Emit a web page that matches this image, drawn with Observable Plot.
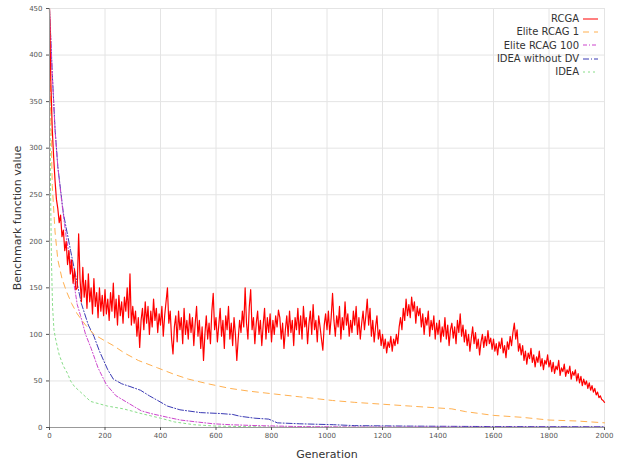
<!DOCTYPE html>
<html>
<head>
<meta charset="utf-8">
<script src="https://cdn.jsdelivr.net/npm/d3@7"></script>
<script src="https://cdn.jsdelivr.net/npm/@observablehq/plot@0.6"></script>
<style>
  html, body { margin: 0; padding: 0; background: #fff; }
  #wrap { position: relative; width: 617px; height: 461px; font-family: "DejaVu Sans", sans-serif; }
  #wrap svg { display: block; }
  #wrap svg [aria-label="y-axis label"] text,
  #wrap svg [aria-label="x-axis label"] text { font-size: 11px; fill: #333; }
  #legend { position: absolute; right: 19px; top: 12px; font-size: 10px; color: #333; }
  #legend .row { display: flex; justify-content: flex-end; align-items: center; height: 13.3px; }
  #legend svg { margin-left: 4px; }
</style>
</head>
<body>
<div id="wrap"></div>
<script>
// ---- data ----
const xTicks = [0, 200, 400, 600, 800, 1000, 1200, 1400, 1600, 1800, 2000];
const yTicks = [0, 50, 100, 150, 200, 250, 300, 350, 400, 450];

const seriesNames = ["RCGA", "Elite RCAG 1", "Elite RCAG 100", "IDEA without DV", "IDEA"];
const seriesColors = ["#ff0000", "#ffb050", "#cc44cc", "#3a3ab4", "#88dd88"];
const seriesDash = ["none", "6,5", "4,2,1,2", "6,2,1,2", "2,3"];

// RCGA: one value every 5 generations, from 0 to 2000
const rcgaStep = 5;
const rcga = [
  450,370,320,290,265,245,235,220,228,205,212,190,200,175,190,165,180,155,170,148,
  150,208,160,135,172,140,158,128,165,135,150,122,160,130,145,118,150,125,142,120,
  148,122,138,115,145,125,155,118,138,110,142,120,135,112,140,125,150,118,165,110,
  130,112,125,98,118,86,115,128,105,135,112,130,100,125,108,138,115,128,102,122,
  110,130,98,120,135,150,112,125,95,79,108,120,92,125,105,118,90,128,100,115,
  95,122,102,118,88,112,130,98,115,85,108,72,100,120,95,112,90,125,144,105,
  118,92,110,128,98,115,85,120,105,130,95,112,88,118,100,72,95,115,102,125,
  108,150,112,95,130,148,105,118,90,112,125,100,115,88,110,128,95,118,102,122,
  92,115,100,120,108,126,118,95,112,85,105,120,98,125,102,115,88,118,105,128,
  100,120,95,130,108,118,90,112,125,100,132,105,115,92,120,108,95,83,110,122,
  105,125,100,118,144,115,98,120,108,130,95,118,105,135,110,122,98,115,102,125,
  110,130,100,118,95,112,125,105,120,138,110,128,98,115,92,108,120,95,105,88,
  100,85,95,80,92,86,98,82,95,88,100,90,108,118,105,128,115,138,120,132,
  118,140,125,135,112,130,120,128,108,122,100,118,110,125,98,115,105,120,95,112,
  100,115,92,108,98,118,95,110,88,105,112,96,108,90,115,102,122,98,110,92,
  105,88,100,82,96,108,90,102,85,95,78,92,100,86,98,88,104,90,96,84,
  95,82,90,78,92,85,96,80,88,75,92,84,98,88,102,112,95,105,82,90,
  78,88,72,82,68,80,74,85,70,78,65,76,70,82,66,74,62,72,68,78,
  65,72,60,70,58,66,62,72,56,64,60,68,55,62,58,66,52,60,56,62,
  50,58,48,55,45,52,46,50,42,48,40,45,38,42,35,38,32,34,30,29,
  27
];

// [generation, value]
const elite1 = [[0,450],[5,330],[10,260],[20,210],[30,180],[45,160],[60,147],[80,133],[100,122],[130,110],[160,100],[200,93],[230,88],[270,80],[320,72],[390,64],[450,57],[500,52],[570,47],[650,42],[720,39],[810,36],[900,33],[1020,29],[1100,27],[1200,25],[1300,23],[1400,21],[1450,20],[1500,17],[1600,13],[1700,11],[1800,8],[1900,7],[2000,5]];
const elite100 = [[0,450],[10,380],[20,320],[30,280],[45,240],[60,205],[80,170],[100,132],[112,120],[130,100],[150,85],[175,64],[205,46],[240,34],[285,26],[330,18],[365,15],[425,11],[472,8],[530,6],[590,4],[650,3],[750,2],[900,1],[1100,0.5],[2000,0.2]];
const ideaNoDv = [[0,450],[10,380],[20,320],[30,280],[50,230],[76,190],[105,147],[115,133],[140,110],[160,98],[180,82],[210,62],[230,52],[260,47],[290,44],[328,40],[360,34],[390,29],[425,23],[470,19],[544,16],[616,15],[660,14],[688,12],[740,10],[790,9],[821,5],[900,4],[1023,3],[1100,2],[1300,1.5],[1600,1],[2000,0.8]];
const idea = [[0,450],[2,350],[4,250],[7,180],[11,130],[16,105],[22,95],[35,78],[50,66],[65,58],[76,50],[90,44],[112,38],[148,28],[209,23],[267,20],[330,15],[400,10],[450,6],[520,3],[600,1.5],[800,0.5],[2000,0.1]];

// ---- build table ----
const rows = [];
rcga.forEach((v, i) => rows.push({gen: i * rcgaStep, value: v, series: seriesNames[0]}));
[elite1, elite100, ideaNoDv, idea].forEach((arr, k) =>
  arr.forEach(([g, v]) => rows.push({gen: g, value: v, series: seriesNames[k + 1]})));

const lineMarks = seriesNames.map((name, k) =>
  Plot.line(rows.filter(d => d.series === name), {
    x: "gen", y: "value",
    stroke: seriesColors[k],
    strokeWidth: k === 0 ? 1.2 : 1,
    strokeDasharray: seriesDash[k] === "none" ? null : seriesDash[k]
  })
).reverse();

const chart = Plot.plot({
  width: 617,
  height: 461,
  marginLeft: 49,
  marginRight: 13,
  marginTop: 8,
  marginBottom: 34,
  style: {fontFamily: "DejaVu Sans, sans-serif", fontSize: "7px", color: "#555", background: "#fff"},
  x: {domain: [0, 2000]},
  y: {domain: [0, 450]},
  marks: [
    Plot.gridX(xTicks, {stroke: "#e4e4e4", strokeOpacity: 1}),
    Plot.gridY(yTicks, {stroke: "#e4e4e4", strokeOpacity: 1}),
    ...lineMarks,
    Plot.ruleX([0], {stroke: "#999"}),
    Plot.ruleY([0], {stroke: "#999"}),
    Plot.axisX({ticks: xTicks, tickFormat: d3.format("d"), tickSize: 3, tickPadding: 3, label: "Generation", labelAnchor: "center", labelArrow: "none", labelOffset: 30}),
    Plot.axisY({ticks: yTicks, tickFormat: d3.format("d"), tickSize: 3, tickPadding: 4, label: "Benchmark function value", labelAnchor: "center", labelArrow: "none", labelOffset: 36})
  ]
});

const wrap = document.getElementById("wrap");
wrap.appendChild(chart);

// legend
const legend = document.createElement("div");
legend.id = "legend";
seriesNames.forEach((name, k) => {
  const row = document.createElement("div");
  row.className = "row";
  const span = document.createElement("span");
  span.textContent = name;
  row.appendChild(span);
  const sw = d3.create("svg").attr("width", 15).attr("height", 8);
  sw.append("line").attr("x1", 0).attr("x2", 15).attr("y1", 4).attr("y2", 4)
    .attr("stroke", seriesColors[k]).attr("stroke-width", 1)
    .attr("stroke-dasharray", seriesDash[k] === "none" ? null : seriesDash[k]);
  row.appendChild(sw.node());
  legend.appendChild(row);
});
wrap.appendChild(legend);
</script>
</body>
</html>
